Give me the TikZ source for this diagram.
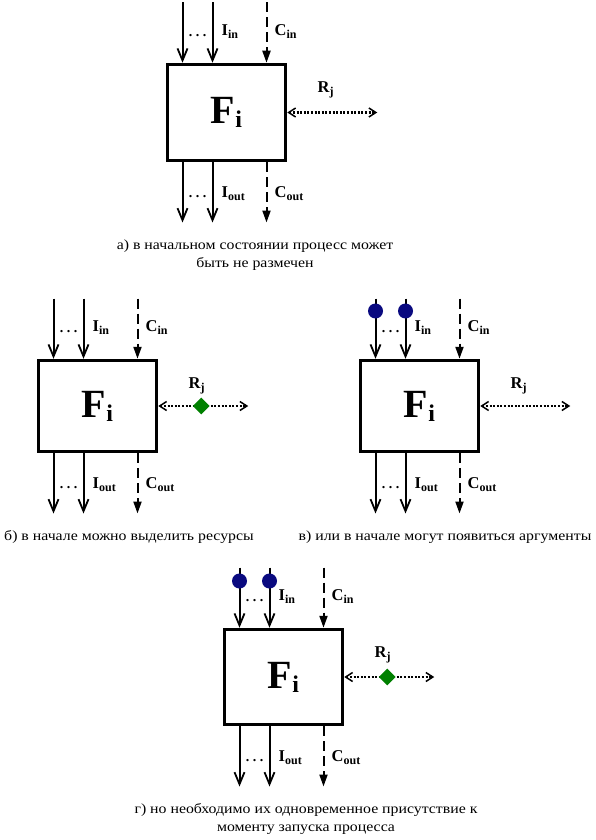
\documentclass[tikz,border=0pt]{standalone}
\usepackage{fontspec}
\setmainfont{Liberation Serif}
\newfontfamily\capfont[FakeStretch=1.13]{Liberation Serif}
\usetikzlibrary{arrows.meta,calc,shapes.geometric}

\definecolor{dotblue}{RGB}{10,10,128}
\definecolor{diagreen}{RGB}{0,128,0}

\newcommand\lblsub[2]{#1\raisebox{-3pt}{\fontsize{12}{12}\selectfont #2}}
\newcommand\Fsub{F\raisebox{-4pt}{\fontsize{24}{24}\selectfont i}}
\newcommand\threedots{.\kern3.5pt.\kern3.5pt.}

\tikzset{
  procbox/.style={draw,line width=3.5pt,minimum width=118pt,inner sep=0pt,
    font=\bfseries\fontsize{40}{40}\selectfont},
  iarrow/.style={line width=2pt,-{Straight Barb[length=12pt,width=10pt,line width=1.8pt]}},
  carrow/.style={line width=2pt,dash pattern=on 10pt off 5pt,-{Triangle[length=12pt,width=8pt]}},
  rarrow/.style={line width=2.2pt,dash pattern=on 2pt off 1.6pt,
    {Straight Barb[length=7pt,width=9pt,line width=1.5pt]}-{Straight Barb[length=7pt,width=9pt,line width=1.5pt]}},
  lbl/.style={inner sep=0pt,font=\bfseries\fontsize{16.5}{16.5}\selectfont},
  dotslbl/.style={inner sep=0pt,font=\bfseries\fontsize{14}{14}\selectfont},
  captext/.style={inner sep=0pt,align=center,font=\capfont\fontsize{14}{18.5}\selectfont},
  token/.style={circle,fill=dotblue,minimum size=15pt,inner sep=0pt},
  resdia/.style={diamond,aspect=1,fill=diagreen,minimum size=17pt,inner sep=0pt},
}

% #1 prefix, #2 left, #3 top, #4 height
\newcommand\procblock[4]{%
  \node[procbox,minimum height=#4pt] (#1box) at (#2+59,#3+#4/2) {\Fsub};
  \coordinate (#1ia) at (#2+15,#3-62);
  \coordinate (#1ib) at (#2+45,#3-62);
  \coordinate (#1ic) at (#2+99,#3-62);
  \coordinate (#1oa) at (#2+15,#3+#4+62);
  \coordinate (#1ob) at (#2+45,#3+#4+62);
  \coordinate (#1oc) at (#2+99,#3+#4+62);
  \draw[iarrow] (#1ia) -- (#1ia |- #1box.north);
  \draw[iarrow] (#1ib) -- (#1ib |- #1box.north);
  \draw[carrow] (#1ic) -- (#1ic |- #1box.north);
  \draw[iarrow] (#1oa |- #1box.south) -- (#1oa);
  \draw[iarrow] (#1ob |- #1box.south) -- (#1ob);
  \draw[carrow] (#1oc |- #1box.south) -- (#1oc);
  \coordinate (#1r) at ($(#1box.east)+(90,0)$);
  \draw[rarrow] (#1box.east) -- (#1r);
  \node[dotslbl] (#1din) at (#2+30,#3-29) {\threedots};
  \node[dotslbl] (#1dout) at (#2+30,#3+#4+36) {\threedots};
  \node[lbl,anchor=base west] (#1lin) at (#2+54,#3-29) {\lblsub{I}{in}};
  \node[lbl,anchor=base west] (#1lcin) at (#2+107,#3-29) {\lblsub{C}{in}};
  \node[lbl,anchor=base west] (#1lout) at (#2+54,#3+#4+37) {\lblsub{I}{out}};
  \node[lbl,anchor=base west] (#1lcout) at (#2+107,#3+#4+37) {\lblsub{C}{out}};
  \node[lbl,anchor=base west] (#1lr) at (#2+150,#3+28) {\lblsub{R}{j}};
}

\begin{document}
\begin{tikzpicture}[x=1pt,y=-1pt]
\path[use as bounding box,fill=white] (0,0) rectangle (595,840);

% a)
\procblock{a}{167.5}{64.5}{96}
\node[captext] (capa) at (255,255) {а) в начальном состоянии процесс может\\быть не размечен};

% б)
\procblock{b}{38.5}{360.5}{91}
\node[resdia] (bres) at ($(bbox.east)+(43,0)$) {};
\node[captext] (capb) at (129,537) {б) в начале можно выделить ресурсы};

% в)
\procblock{c}{360.5}{360.5}{91}
\node[token] (ctok1) at (375.5,311) {};
\node[token] (ctok2) at (405.5,311) {};
\node[captext] (capc) at (445,537) {в) или в начале могут появиться аргументы};

% г)
\procblock{d}{224.5}{629.5}{95}
\node[token] (dtok1) at (239.5,581) {};
\node[token] (dtok2) at (269.5,581) {};
\node[resdia] (dres) at ($(dbox.east)+(43,0)$) {};
\node[captext] (capd) at (306,819) {г) но необходимо их одновременное присутствие к\\моменту запуска процесса};
\end{tikzpicture}
\end{document}
